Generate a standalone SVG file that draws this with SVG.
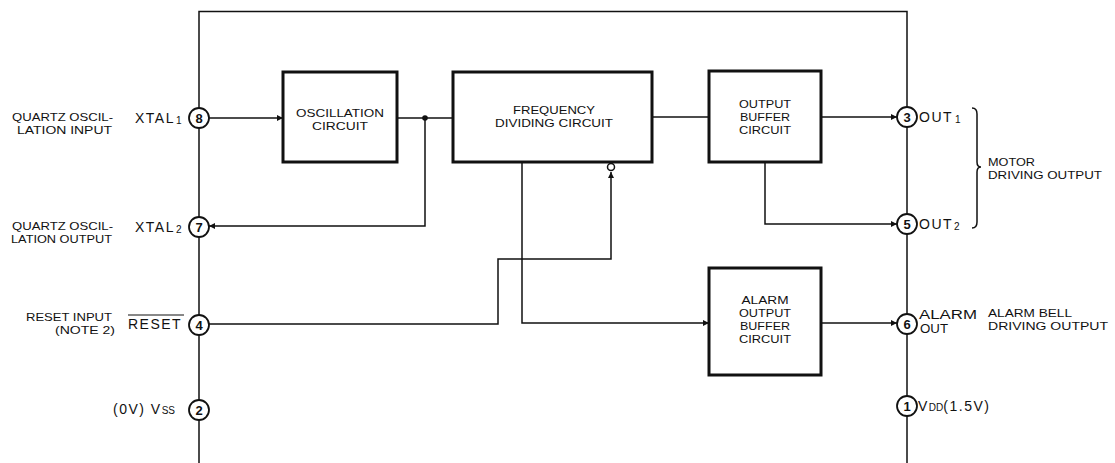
<svg xmlns="http://www.w3.org/2000/svg" width="1115" height="463" viewBox="0 0 1115 463">
<defs>
<style>
.frame{fill:none;stroke:#111;stroke-width:1.5}
.box{fill:#fff;stroke:#111;stroke-width:3}
.wire{fill:none;stroke:#111;stroke-width:1.5}
.pin{fill:#fff;stroke:#111;stroke-width:1.8}
.pnum{font-family:"Liberation Sans",Arial,sans-serif;font-size:13px;font-weight:bold;fill:#111;text-anchor:middle}
.bt{font-family:"Liberation Sans",Arial,sans-serif;font-size:11.5px;fill:#111;text-anchor:middle}
.lbl{font-family:"Liberation Sans",Arial,sans-serif;font-size:11.5px;fill:#111}
.sig{font-family:"Liberation Sans",Arial,sans-serif;font-size:14px;fill:#111;letter-spacing:1.5px}
.sig2{font-family:"Liberation Sans",Arial,sans-serif;font-size:12.5px;fill:#111}
.sub{font-size:10px;letter-spacing:0}
</style>
<marker id="arr" viewBox="0 0 10 10" refX="10" refY="5" markerWidth="9" markerHeight="6" markerUnits="userSpaceOnUse" orient="auto">
<path d="M0,0 L10,5 L0,10 Z" fill="#111"/>
</marker>
</defs>

<g id="package">
<path class="frame" d="M199,463 V11.5 H907 V463"/>
</g>

<g id="connectors">
<line class="wire" x1="209" y1="118" x2="283" y2="118" marker-end="url(#arr)"/>
<line class="wire" x1="397" y1="118" x2="453" y2="118"/>
<circle cx="425" cy="118" r="2.8" fill="#111"/>
<polyline class="wire" points="425,118 425,226 209,226" marker-end="url(#arr)"/>
<line class="wire" x1="652" y1="117" x2="709" y2="117"/>
<line class="wire" x1="821" y1="117" x2="897" y2="117" marker-end="url(#arr)"/>
<polyline class="wire" points="765,162 765,224 897,224" marker-end="url(#arr)"/>
<polyline class="wire" points="522,162 522,323 709,323" marker-end="url(#arr)"/>
<polyline class="wire" points="209,324 498,324 498,259 611,259 611,172" marker-end="url(#arr)"/>
<circle cx="611" cy="167" r="3.5" fill="#fff" stroke="#111" stroke-width="1.5"/>
<line class="wire" x1="821" y1="323" x2="897" y2="323" marker-end="url(#arr)"/>
<path class="wire" d="M972,108 Q977,108 977,114 V162 Q977,167 981,167 Q977,167 977,172 V222 Q977,228 972,228" stroke-width="1"/>
</g>

<g id="osc">
<rect class="box" x="283" y="72" width="114" height="90"/>
<text class="bt" x="340" y="117" textLength="88" lengthAdjust="spacingAndGlyphs">OSCILLATION</text>
<text class="bt" x="340" y="130" textLength="56" lengthAdjust="spacingAndGlyphs">CIRCUIT</text>
</g>

<g id="freq">
<rect class="box" x="453" y="72" width="199" height="90"/>
<text class="bt" x="554" y="114" textLength="82" lengthAdjust="spacingAndGlyphs">FREQUENCY</text>
<text class="bt" x="554" y="127" textLength="118" lengthAdjust="spacingAndGlyphs">DIVIDING CIRCUIT</text>
</g>

<g id="outbuf">
<rect class="box" x="709" y="71" width="112" height="91"/>
<text class="bt" x="765" y="108" textLength="52" lengthAdjust="spacingAndGlyphs">OUTPUT</text>
<text class="bt" x="765" y="121" textLength="50" lengthAdjust="spacingAndGlyphs">BUFFER</text>
<text class="bt" x="765" y="134" textLength="52" lengthAdjust="spacingAndGlyphs">CIRCUIT</text>
</g>

<g id="alarmbuf">
<rect class="box" x="709" y="268" width="112" height="107"/>
<text class="bt" x="765" y="304" textLength="47" lengthAdjust="spacingAndGlyphs">ALARM</text>
<text class="bt" x="765" y="317" textLength="52" lengthAdjust="spacingAndGlyphs">OUTPUT</text>
<text class="bt" x="765" y="330" textLength="50" lengthAdjust="spacingAndGlyphs">BUFFER</text>
<text class="bt" x="765" y="343" textLength="52" lengthAdjust="spacingAndGlyphs">CIRCUIT</text>
</g>

<g id="pin8">
<circle class="pin" cx="199" cy="118" r="10"/>
<text class="pnum" x="199" y="123">8</text>
<text class="sig" x="135" y="123">XTAL<tspan class="sub" dx="1" dy="1">1</tspan></text>
<text class="lbl" x="113" y="121" text-anchor="end" textLength="101" lengthAdjust="spacingAndGlyphs">QUARTZ OSCIL-</text>
<text class="lbl" x="112" y="134" text-anchor="end" textLength="95" lengthAdjust="spacingAndGlyphs">LATION INPUT</text>
</g>

<g id="pin7">
<circle class="pin" cx="199" cy="227" r="10"/>
<text class="pnum" x="199" y="232">7</text>
<text class="sig" x="135" y="232">XTAL<tspan class="sub" dx="1" dy="1">2</tspan></text>
<text class="lbl" x="113" y="230" text-anchor="end" textLength="101" lengthAdjust="spacingAndGlyphs">QUARTZ OSCIL-</text>
<text class="lbl" x="112" y="243" text-anchor="end" textLength="101" lengthAdjust="spacingAndGlyphs">LATION OUTPUT</text>
</g>

<g id="pin4">
<circle class="pin" cx="199" cy="325" r="10"/>
<text class="pnum" x="199" y="330">4</text>
<text class="sig" x="128" y="329">RESET</text>
<line x1="128" y1="315" x2="184" y2="315" stroke="#111" stroke-width="1"/>
<text class="lbl" x="112" y="320.5" text-anchor="end" textLength="86" lengthAdjust="spacingAndGlyphs">RESET INPUT</text>
<text class="lbl" x="115" y="333.5" text-anchor="end" textLength="60" lengthAdjust="spacingAndGlyphs">(NOTE 2)</text>
</g>

<g id="pin2">
<circle class="pin" cx="199" cy="410" r="10"/>
<text class="pnum" x="199" y="415">2</text>
<text class="sig" x="113" y="414" letter-spacing="1.5">(0V) V<tspan class="sub" font-size="11">SS</tspan></text>
</g>

<g id="pin3">
<circle class="pin" cx="907" cy="117" r="10"/>
<text class="pnum" x="907" y="122">3</text>
<text class="sig" x="919" y="122">OUT<tspan class="sub" dx="2" dy="1">1</tspan></text>
</g>

<g id="pin5">
<circle class="pin" cx="907" cy="224" r="10"/>
<text class="pnum" x="907" y="229">5</text>
<text class="sig" x="919" y="229">OUT<tspan class="sub" dx="1" dy="1">2</tspan></text>
<text class="lbl" x="988" y="166" textLength="47" lengthAdjust="spacingAndGlyphs">MOTOR</text>
<text class="lbl" x="988" y="179" textLength="114" lengthAdjust="spacingAndGlyphs">DRIVING OUTPUT</text>
</g>

<g id="pin6">
<circle class="pin" cx="907" cy="324" r="10"/>
<text class="pnum" x="907" y="329">6</text>
<text class="sig2" x="919" y="318.5" textLength="58" lengthAdjust="spacingAndGlyphs">ALARM</text>
<text class="sig2" x="920" y="333" textLength="28" lengthAdjust="spacingAndGlyphs">OUT</text>
<text class="lbl" x="988" y="317" textLength="84" lengthAdjust="spacingAndGlyphs">ALARM BELL</text>
<text class="lbl" x="988" y="330" textLength="120" lengthAdjust="spacingAndGlyphs">DRIVING OUTPUT</text>
</g>

<g id="pin1">
<circle class="pin" cx="907" cy="406" r="10"/>
<text class="pnum" x="907" y="411">1</text>
<text class="sig" x="918" y="411" letter-spacing="1">V<tspan class="sub" font-size="10">DD</tspan>(1.5V)</text>
</g>
</svg>
